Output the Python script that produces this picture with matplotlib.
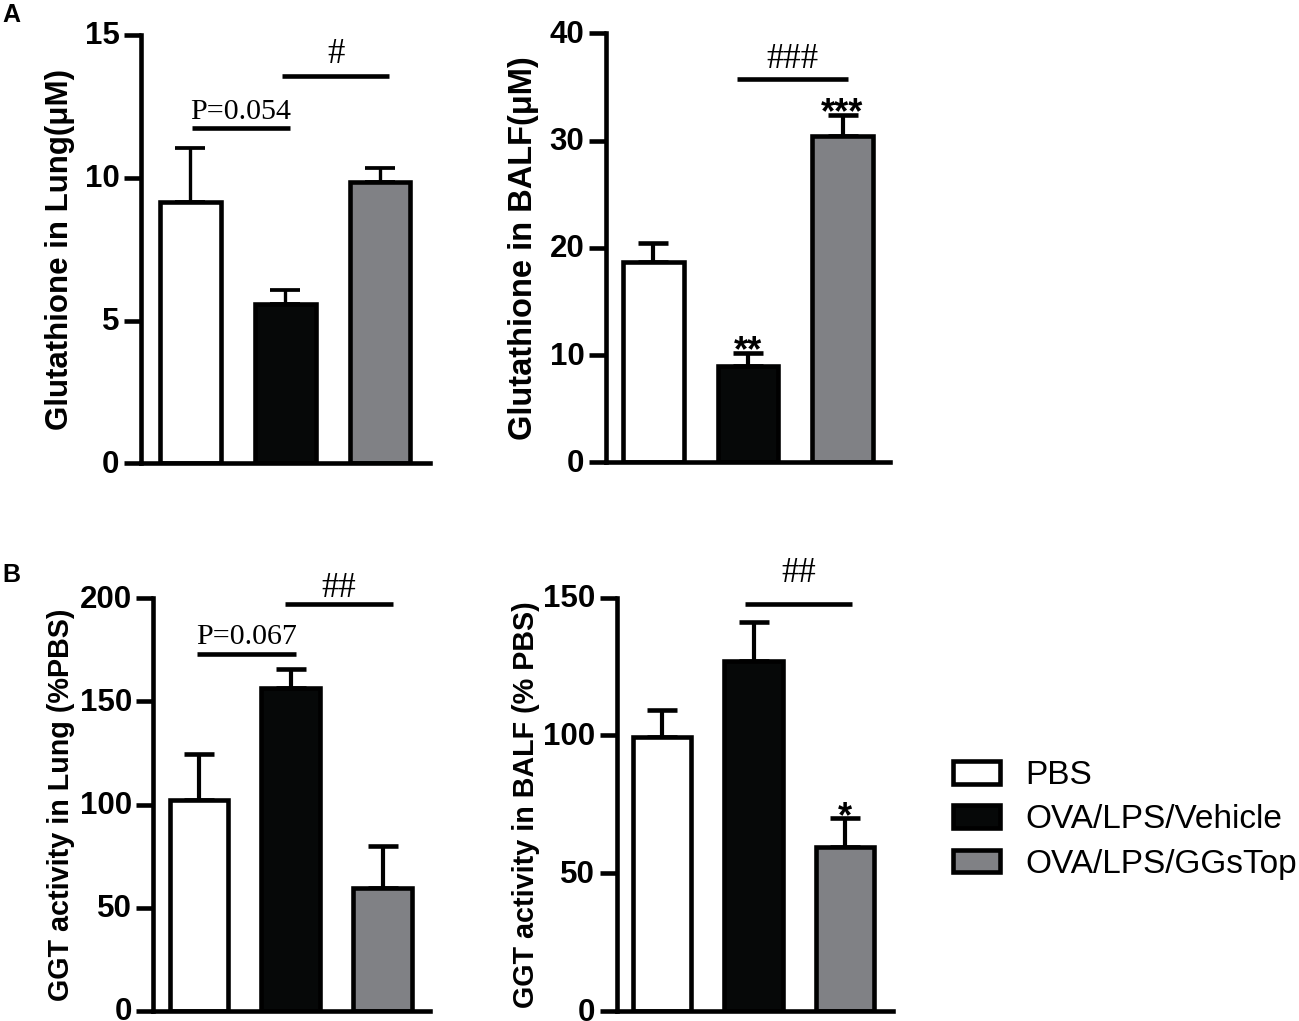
import matplotlib
matplotlib.use('Agg')
import matplotlib.pyplot as plt
import matplotlib.transforms as mtransforms
import numpy as np

plt.rcParams['font.family'] = ['Liberation Sans', 'DejaVu Sans']

# ---------------- data ----------------
groups = ['PBS', 'OVA/LPS/Vehicle', 'OVA/LPS/GGsTop']
bar_colors = ['#ffffff', '#060808', '#808185']

lung_gsh = [9.15, 5.58, 9.84]
lung_gsh_err = [1.88, 0.49, 0.50]
balf_gsh = [18.73, 9.02, 30.4]
balf_gsh_err = [1.77, 1.18, 2.0]
lung_ggt = [102.3, 156.6, 59.4]
lung_ggt_err = [22.0, 9.3, 20.7]
balf_ggt = [99.6, 127.2, 59.4]
balf_ggt_err = [9.7, 14.1, 10.5]

ylabels = ['Glutathione in Lung(μM)', 'Glutathione in BALF(μM)',
           'GGT activity in Lung (%PBS)', 'GGT activity in BALF (% PBS)']
yticks = [[0, 5, 10, 15], [0, 10, 20, 30, 40],
          [0, 50, 100, 150, 200], [0, 50, 100, 150]]

# significance brackets: (x start, x end, height, text, text offset pt)
brackets = [
    [(0.013, 1.05, 11.73, 'P=0.054', 7.0), (0.963, 2.10, 13.57, '#', 9.0)],
    [(0.882, 2.055, 35.7, '###', 8.5)],
    [(-0.027, 1.056, 173.0, 'P=0.067', 7.5), (0.936, 2.11, 197.1, '##', 5.5)],
    [(0.907, 2.076, 147.6, '##', 16.0)],
]
# asterisks over bars: panel -> list of (bar index, text)
stars = [[], [(1, '**'), (2, '***')], [], [(2, '*')]]

# ---------------- layout (pixels) ----------------
W, H = 1299, 1021
def rect(l, r, t, b):
    return [l / W, 1 - b / H, (r - l) / W, (b - t) / H]

panel_rects = [rect(141, 430, 35, 463.3), rect(606, 890, 33.3, 462.5),
               rect(153.3, 430, 598.3, 1010.7), rect(616.7, 892.7, 597.7, 1011)]
xlims = [(-0.522, 2.528), (-0.5, 2.502), (-0.5, 2.518), (-0.5, 2.526)]
label_x = [-0.279, -0.29, -0.332, -0.328]
label_size = [22.5, 23.5, 20.7, 20.7]
elw = [2.4, 3.0, 3.0, 3.0]

values = [lung_gsh, balf_gsh, lung_ggt, balf_ggt]
errors = [lung_gsh_err, balf_gsh_err, lung_ggt_err, balf_ggt_err]

fig = plt.figure(figsize=(W / 100, H / 100), dpi=100)
LW = 3.3
x = np.arange(len(groups))
last_bars = None
shift_up = mtransforms.ScaledTranslation(0, 2.0 / 100, fig.dpi_scale_trans)
for i in range(4):
    ax = fig.add_axes(panel_rects[i])
    vals = values[i]
    errs = errors[i]
    ax.errorbar(x, vals, yerr=[np.zeros(len(vals)), errs], fmt='none',
                ecolor='black', elinewidth=elw[i], capsize=10.5,
                capthick=elw[i] + 0.3, zorder=1, clip_on=False)
    bars = ax.bar(x, vals, width=0.64, color=bar_colors, edgecolor='black',
                  linewidth=LW, zorder=2)
    for b, g in zip(bars, groups):
        b.set_label(g)
    last_bars = bars
    ax.set_xlim(*xlims[i])
    ax.set_ylim(yticks[i][0], yticks[i][-1])
    ax.set_yticks(yticks[i])
    ax.set_xticks([])
    for s in ['top', 'right']:
        ax.spines[s].set_visible(False)
    for s in ['left', 'bottom']:
        ax.spines[s].set_linewidth(LW)
    ax.tick_params(axis='y', direction='out', length=12, width=LW,
                   labelsize=22.5, pad=3.5)
    for lbl in ax.get_yticklabels():
        lbl.set_fontweight('bold')
        lbl.set_transform(lbl.get_transform() + shift_up)
    ax.set_ylabel(ylabels[i], fontsize=label_size[i], fontweight='bold',
                  va='center')
    ax.yaxis.set_label_coords(label_x[i], 0.5)
    ax.patch.set_alpha(0)

    for (x0, x1, yv, txt, off) in brackets[i]:
        ax.plot([x0, x1], [yv, yv], color='black', lw=LW,
                solid_capstyle='butt', clip_on=False)
        fs = 21.6 if txt.startswith('P') else 25
        ax.annotate(txt, xy=((x0 + x1) / 2, yv), xytext=(0, off),
                    textcoords='offset points', ha='center', va='baseline',
                    fontsize=fs, family='Liberation Serif',
                    annotation_clip=False)
    for (bi, txt) in stars[i]:
        ax.annotate(txt, xy=(x[bi], vals[bi] + errs[bi]), xytext=(0, -6),
                    textcoords='offset points', ha='center', va='baseline',
                    fontsize=26, fontweight='bold', annotation_clip=False)

fig.text(2 / W, 1 - 2.5 / H, 'A', ha='left', va='top', fontsize=18,
         fontweight='bold')
fig.text(2 / W, 1 - 563.5 / H, 'B', ha='left', va='top', fontsize=18,
         fontweight='bold')

fig.legend(handles=list(last_bars), labels=groups, loc='center left',
           bbox_to_anchor=(953 / W, 1 - 820 / H), frameon=False,
           fontsize=24, handlelength=1.42, handleheight=0.67,
           handletextpad=0.74, labelspacing=0.40, borderpad=0,
           borderaxespad=0)

fig.savefig('out.png', dpi=100)
